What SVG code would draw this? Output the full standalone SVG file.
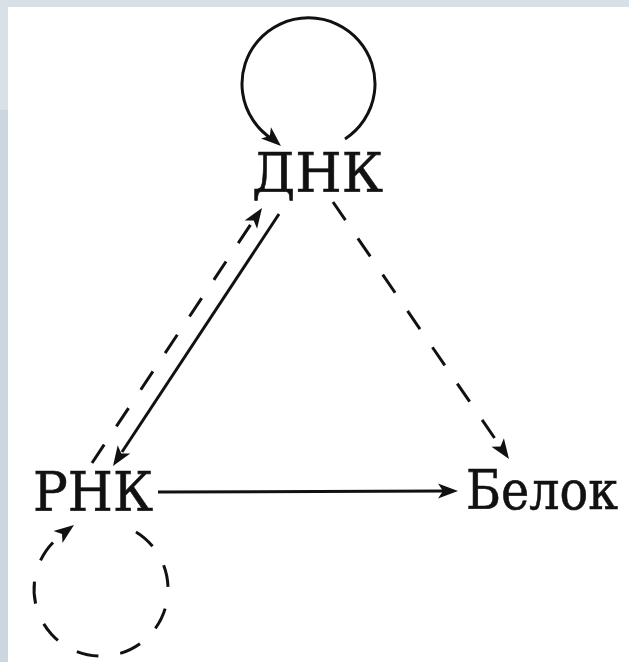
<svg xmlns="http://www.w3.org/2000/svg" width="629" height="662" viewBox="0 0 629 662">
<style>
.ln{fill:none;stroke:#111;stroke-width:3}
.ds{stroke-dasharray:22 22}
.hd{fill:#111;stroke:none}
.lbl{font-family:'DejaVu Serif','Liberation Serif',serif;font-size:54px;fill:#111;stroke:#111;stroke-width:0.6;text-anchor:middle}
</style>
<rect x="0" y="0" width="629" height="662" fill="#ffffff"/>
<rect x="0" y="0" width="629" height="7" fill="#d7dfe7"/>
<rect x="0" y="0" width="8" height="662" fill="#cbd6e0"/>
<rect x="0" y="0" width="8" height="110" fill="#d9e0e7"/>
<g id="connectors">
<path class="ln" d="M345,139 A66.5,66 0 1 0 272,139"/>
<polygon class="hd" points="281,146 261,138.4 269.8,136.1 271,127.2"/>
<path class="ln" d="M279,214 L122,452"/>
<polygon class="hd" points="113,466 117.7,445.2 121.3,453.5 130.3,453.4"/>
<path class="ln ds" d="M92,463 L253,221"/>
<polygon class="hd" points="262,208 257.1,228.8 253.7,220.5 244.7,220.4"/>
<path class="ln ds" d="M333,202 L500,446"/>
<polygon class="hd" points="509,459 491.5,446.7 500.5,446.6 503.9,438.3"/>
<path class="ln" d="M158,492 L444,491"/>
<polygon class="hd" points="458,491 438,498.5 443,491 438,483.5"/>
<path class="ln ds" d="M136,532 A67,67 0 1 1 63,534"/>
<polygon class="hd" points="74,525 62.5,543 62,534 53.5,531"/>
</g>
<g id="dna"><text class="lbl" x="317.5" y="192" textLength="131" lengthAdjust="spacingAndGlyphs">ДНК</text></g>
<g id="rna"><text class="lbl" x="93" y="511" textLength="120" lengthAdjust="spacingAndGlyphs">РНК</text></g>
<g id="protein"><text class="lbl" x="542" y="509" textLength="152" lengthAdjust="spacingAndGlyphs">Белок</text></g>
</svg>
